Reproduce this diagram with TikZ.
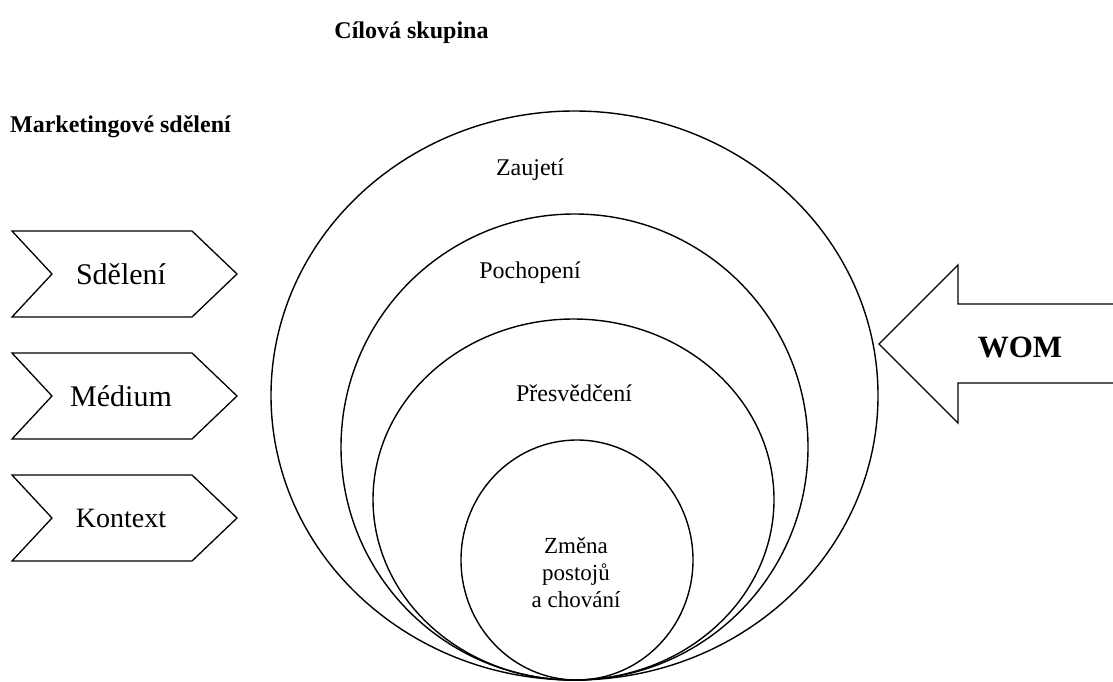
\documentclass[tikz,border=0pt]{standalone}
\usepackage{fontspec}
\setmainfont{Liberation Serif}
\usetikzlibrary{shapes.geometric}
\begin{document}
\begin{tikzpicture}[x=1pt,y=-1pt, line join=miter,
  ring/.style={draw, ellipse, inner sep=0pt, outer sep=0pt, line width=1.4pt},
  lbl/.style={font=\fontsize{24}{27}\selectfont, align=center, inner sep=0pt},
  chev/.style={draw, line width=1.3pt},
  chevtext/.style={font=\fontsize{30}{34}\selectfont, inner sep=0pt},
  ttl/.style={font=\bfseries\fontsize{24}{28}\selectfont, inner sep=0pt}]
\useasboundingbox (0,0) rectangle (1113,681);
% titles
\node[ttl] (cil) at (411.5,33) {Cílová skupina};
\node[ttl] (mkt) at (120.5,127) {Marketingové sdělení};
% nested ellipses
\node[ring, minimum width=607pt, minimum height=569pt] (e1) at (574.5,395.5) {};
\node[ring, minimum width=467pt, minimum height=466pt] (e2) at (574.5,447) {};
\node[ring, minimum width=401pt, minimum height=361pt] (e3) at (573.5,499.5) {};
\node[ring, minimum width=232pt, minimum height=240pt] (e4) at (577,560) {};
% labels
\node[lbl] (zau) at (530,170) {Zaujetí};
\node[lbl] (poc) at (530,273) {Pochopení};
\node[lbl] (pre) at (574,393) {Přesvědčení};
\node[lbl, font=\fontsize{23}{27}\selectfont] (zme) at (576,573) {Změna\\postojů\\a chování};
% chevrons
\foreach \yc/\txt/\nm/\fs in {274/Sdělení/sd/30, 396/Médium/me/30, 518/Kontext/ko/28}{
  \draw[chev] (12,\yc-43) -- (192,\yc-43) -- (237,\yc) -- (192,\yc+43) -- (12,\yc+43) -- (52,\yc) -- cycle;
  \node[chevtext, font=\fontsize{\fs}{34}\selectfont] (\nm) at (121,\yc) {\txt};
}
% WOM arrow
\coordinate (wtip) at (879,344);
\draw[chev] (1114,304) -- (958,304) -- (958,265) -- (wtip) -- (958,423) -- (958,383) -- (1114,383);
\node[ttl, font=\bfseries\fontsize{31}{34}\selectfont] (wom) at (1020,347) {WOM};
\end{tikzpicture}
\end{document}
